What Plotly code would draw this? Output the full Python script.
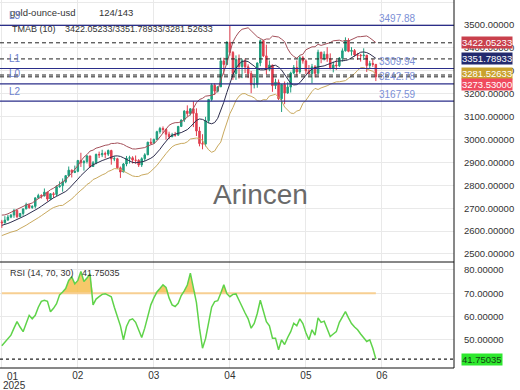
import numpy as np
import pandas as pd
import plotly.graph_objects as go
from plotly.subplots import make_subplots

# ---------------- data ----------------
# warm-up bars (not drawn, only used for the indicator)
warm_open = [2652, 2646, 2586, 2594, 2622, 2613, 2617, 2633, 2621, 2606, 2624, 2658]
warm_high = [2653, 2664, 2615, 2632, 2630, 2619, 2639, 2637, 2626, 2626, 2665, 2666]
warm_low = [2632, 2582, 2583, 2584, 2602, 2608, 2613, 2614, 2597, 2601, 2623, 2635]
warm_close = [2646, 2586, 2594, 2622, 2613, 2617, 2633, 2621, 2606, 2624, 2658, 2640]

open_ = [
    2640, 2636, 2648, 2661, 2670, 2690, 2663, 2677, 2697, 2715,
    2703, 2708, 2745, 2755, 2753, 2770, 2740, 2763, 2760, 2794,
    2798, 2815, 2842, 2866, 2856, 2861, 2908, 2898, 2904, 2928,
    2882, 2898, 2935, 2933, 2939, 2936, 2952, 2915, 2916, 2876,
    2858, 2893, 2918, 2920, 2910, 2909, 2889, 2916, 2933, 2988,
    2984, 3000, 3034, 3048, 3044, 3023, 3012, 3020, 3019, 3057,
    3085, 3124, 3113, 3134, 3114, 3037, 2982, 2980, 3082, 3175,
    3237, 3211, 3230, 3343, 3327, 3424, 3380, 3288, 3349, 3319,
    3344, 3317, 3288, 3239, 3240, 3334, 3431, 3365, 3306, 3325,
    3235, 3250, 3178, 3240, 3203, 3229, 3290, 3314, 3295, 3357,
    3343, 3300, 3288, 3317, 3289, 3381, 3353, 3372, 3352, 3310,
    3325, 3322, 3355, 3387, 3432, 3385, 3388, 3369, 3368, 3366,
    3368, 3323, 3332, 3328]
high = [
    2649, 2665, 2671, 2675, 2697, 2692, 2679, 2697, 2724, 2716,
    2713, 2746, 2763, 2761, 2786, 2772, 2765, 2770, 2800, 2817,
    2830, 2845, 2882, 2869, 2886, 2911, 2942, 2910, 2932, 2929,
    2906, 2938, 2947, 2955, 2947, 2956, 2955, 2927, 2920, 2882,
    2897, 2928, 2929, 2927, 2930, 2914, 2922, 2940, 2990, 3005,
    3004, 3038, 3055, 3057, 3047, 3034, 3029, 3033, 3059, 3087,
    3128, 3149, 3136, 3167, 3136, 3055, 3023, 3099, 3176, 3245,
    3245, 3232, 3357, 3357, 3430, 3497.88, 3386, 3367, 3371, 3352,
    3353, 3328, 3299, 3269, 3336, 3437, 3435, 3414, 3345, 3326,
    3265, 3262, 3240, 3253, 3250, 3296, 3325, 3345, 3366, 3365,
    3350, 3325, 3330, 3325, 3392, 3383, 3385, 3403, 3376, 3340,
    3349, 3360, 3398, 3446, 3442, 3403, 3395, 3378, 3374, 3398,
    3369, 3343, 3350, 3329]
low = [
    2614, 2633, 2645, 2656, 2658, 2656, 2661, 2667, 2695, 2697,
    2697, 2699, 2741, 2742, 2752, 2730, 2737, 2745, 2752, 2789,
    2772, 2809, 2836, 2834, 2853, 2857, 2880, 2864, 2895, 2876,
    2880, 2892, 2919, 2923, 2918, 2928, 2890, 2905, 2872, 2832,
    2857, 2883, 2895, 2895, 2894, 2880, 2880, 2906, 2932, 2978,
    2983, 2998, 3025, 3028, 2999, 3002, 3010, 3012, 3016, 3055,
    3076, 3100, 3105, 3054, 3015, 2970, 2957, 2970, 3071, 3167,
    3194, 3205, 3229, 3283, 3325, 3366, 3260, 3260, 3266, 3268,
    3290, 3268, 3202, 3223, 3226, 3320, 3360, 3284, 3298, 3208,
    3220, 3172, 3120, 3154, 3199, 3205, 3285, 3278, 3287, 3331,
    3285, 3286, 3245, 3271, 3287, 3333, 3345, 3339, 3306, 3293,
    3303, 3316, 3340, 3384, 3381, 3366, 3362, 3347, 3340, 3347,
    3295, 3312, 3317, 3255]
close = [
    2636, 2648, 2661, 2670, 2690, 2663, 2677, 2697, 2715, 2703,
    2708, 2745, 2755, 2753, 2770, 2740, 2763, 2760, 2794, 2798,
    2815, 2842, 2866, 2856, 2861, 2908, 2898, 2904, 2928, 2882,
    2898, 2935, 2933, 2939, 2936, 2952, 2915, 2916, 2876, 2858,
    2893, 2918, 2920, 2910, 2909, 2889, 2916, 2933, 2988, 2984,
    3000, 3034, 3048, 3044, 3023, 3012, 3020, 3019, 3057, 3085,
    3124, 3113, 3134, 3114, 3037, 2982, 2980, 3082, 3175, 3237,
    3211, 3230, 3343, 3327, 3424, 3380, 3288, 3349, 3319, 3344,
    3317, 3288, 3239, 3240, 3334, 3431, 3365, 3306, 3325, 3235,
    3250, 3178, 3240, 3203, 3229, 3290, 3314, 3295, 3357, 3343,
    3300, 3288, 3317, 3289, 3381, 3353, 3372, 3352, 3310, 3325,
    3322, 3355, 3387, 3432, 3385, 3388, 3369, 3368, 3366, 3368,
    3323, 3332, 3328, 3273.53]

rsi = [
    47.5, 49, 50.5, 52, 55, 57.8, 55.5, 53.5, 57, 60.5,
    59, 60.5, 64, 66.5, 67, 66.5, 62, 63.5, 65.5, 69.3,
    70.5, 72, 75.5, 77, 74, 75.5, 79.3, 75, 76.5, 78.3,
    65, 67.5, 68.5, 69.5, 69.8, 69.3, 68.5, 64, 60, 56,
    50, 55.7, 58.5, 59, 57.5, 54.5, 51, 55, 59.5, 65,
    68, 70.5, 72, 73.6, 72.5, 68, 65, 64.3, 65.7, 69,
    71, 73.5, 78.6, 71.5, 66, 55, 46.4, 50.5, 57, 64,
    66.4, 66.8, 70, 73.6, 69.8, 68.5, 69.5, 69.7, 67, 64,
    61.5, 59, 55, 57, 61.3, 67, 62, 57.8, 56, 50.7,
    50.7, 45.7, 50, 48, 51, 53.5, 57.1, 56, 59, 57,
    53, 50, 54.3, 52, 59.4, 57.5, 58, 55, 51.4, 52.5,
    53.5, 57.5, 60, 62.1, 59.4, 57, 55.5, 54.3, 52.5, 50.7,
    49.3, 50, 46.4, 41.75035]

tick_pos = [25, 50, 75, 100, 125]
tick_text = ["02", "03", "04", "05", "06"]
first_tick_text = "01"
year_text = "2025"

levels = {"L3": 3497.88, "L1": 3309.94, "L0": 3242.78, "L2": 3167.59}
tma_vals = [3422.05233, 3351.78933, 3281.52633]
last_price = 3273.53
rsi_ob = 70
rsi_last = 41.75035

# ---------------- indicator (TMAB 10) ----------------
hh = pd.Series(warm_high + high, dtype=float)
ll = pd.Series(warm_low + low, dtype=float)
cc = pd.Series(warm_close + close, dtype=float)
mid = cc.rolling(6).mean().rolling(5).mean()
pc = cc.shift(1)
tr = pd.concat([hh - ll, (hh - pc).abs(), (ll - pc).abs()], axis=1).max(axis=1)
atr = tr.rolling(10).mean()
nw = len(warm_close)
mid_p = mid.iloc[nw:].values
up_p = (mid + 1.5 * atr).iloc[nw:].values
lo_p = (mid - 1.5 * atr).iloc[nw:].values

x = list(range(len(close)))

FONT = "Liberation Sans, Arial, sans-serif"
W, H = 520, 390
ML, MR, MT, MB = 0, 66, 0, 22
PW, PH = W - ML - MR, H - MT - MB
MAIN_H = 262

fig = make_subplots(rows=2, cols=1, shared_xaxes=True, vertical_spacing=0,
                    row_heights=[MAIN_H, PH - MAIN_H])

fig.add_trace(go.Candlestick(
    x=x, open=open_, high=high, low=low, close=close,
    increasing=dict(line=dict(color="#1f9e7e", width=1), fillcolor="#1f9e7e"),
    decreasing=dict(line=dict(color="#e03e4e", width=1), fillcolor="#e03e4e"),
    whiskerwidth=0, showlegend=False, hoverinfo="skip"), row=1, col=1)

fig.add_trace(go.Scatter(x=x, y=up_p, mode="lines", line=dict(color="#a4505a", width=1),
                         showlegend=False, hoverinfo="skip"), row=1, col=1)
fig.add_trace(go.Scatter(x=x, y=mid_p, mode="lines", line=dict(color="#2d2d4d", width=1),
                         showlegend=False, hoverinfo="skip"), row=1, col=1)
fig.add_trace(go.Scatter(x=x, y=lo_p, mode="lines", line=dict(color="#c9a95e", width=1),
                         showlegend=False, hoverinfo="skip"), row=1, col=1)

# RSI panel
ob_line = [rsi_ob] * len(rsi)
fig.add_trace(go.Scatter(x=x, y=ob_line, mode="lines", line=dict(color="#f7cf92", width=2),
                         showlegend=False, hoverinfo="skip"), row=2, col=1)
fig.add_trace(go.Scatter(x=x, y=np.maximum(np.array(rsi), rsi_ob), mode="lines",
                         line=dict(width=0), fill="tonexty", fillcolor="rgba(246,190,80,0.85)",
                         showlegend=False, hoverinfo="skip"), row=2, col=1)
fig.add_trace(go.Scatter(x=x, y=rsi, mode="lines", line=dict(color="#5fd34a", width=1.5),
                         showlegend=False, hoverinfo="skip"), row=2, col=1)

# horizontal level lines
for name, v in levels.items():
    fig.add_hline(y=v, line=dict(color="#2b2e8a", width=1.2), row=1, col=1)
for v in tma_vals + [last_price]:
    fig.add_hline(y=v, line=dict(color="#222", width=1, dash="4px,3px"), row=1, col=1)
fig.add_hline(y=rsi_last, line=dict(color="#222", width=1.2, dash="3px,3px"), row=2, col=1)

# axes
fig.update_xaxes(range=[-0.6, 148.7], showgrid=True, gridcolor="#e9e9e9",
                 tickvals=[0] + tick_pos, ticktext=[""] + tick_text, zeroline=False,
                 showline=False, ticks="", rangeslider_visible=False,
                 tickfont=dict(family=FONT, size=10, color="#333"))
fig.update_yaxes(side="right", showgrid=True, gridcolor="#e9e9e9", zeroline=False,
                 ticks="", showline=False, tickformat=".5f", ticklabelstandoff=9,
                 tickfont=dict(family=FONT, size=9.5, color="#333"))
fig.update_yaxes(range=[2465, 3609], tickvals=list(range(2500, 3700, 100)), row=1, col=1)
fig.update_yaxes(range=[37.9, 83.4], tickvals=[50, 60, 70, 80], row=2, col=1)


def px(xp):
    return xp / PW


def py(yp):
    return 1 - yp / PH


ann = []


def text(s, xpx, ypx, size=9, color="#333", anchor="left"):
    ann.append(dict(text=s, x=px(xpx), y=py(ypx), xref="paper", yref="paper",
                    xanchor=anchor, yanchor="middle", showarrow=False,
                    font=dict(family=FONT, size=size, color=color)))


text("gold-ounce-usd", 8, 13, size=9.5)
text("124/143", 97, 13, size=9.5)
text("TMAB (10)", 10, 29)
text("/".join(f"{v:.5f}" for v in tma_vals), 63, 29)
text("RSI (14, 70, 30)", 8, 273)
text(f"{rsi_last:.5f}", 80, 273)
text("Arincen", 260, 194, size=28, color="#6a6a6a", anchor="center")
text(first_tick_text, 13, 376, size=10, anchor="center")
text(year_text, 14, 385, size=10, anchor="center")

for name, v in levels.items():
    ann.append(dict(text=name, x=px(7), y=v, xref="paper", yref="y", yshift=10,
                    xanchor="left", yanchor="middle", showarrow=False,
                    font=dict(family=FONT, size=10, color="#6b7fcf")))
    ann.append(dict(text=f"{v:.2f}", x=px(397), y=v, xref="paper", yref="y", yshift=7,
                    xanchor="center", yanchor="middle", showarrow=False,
                    font=dict(family=FONT, size=10, color="#7b8fd6")))

tags = [(tma_vals[0], "#c9404c", "white", 0),
        (tma_vals[1], "#232a6e", "white", 0),
        (tma_vals[2], "#c9a22e", "white", 2),
        (last_price, "#f04a5e", "white", -8)]
for v, bg, fc, ys in tags:
    ann.append(dict(text=f"{v:.5f}", x=px(461), y=v, xref="paper", yref="y", yshift=ys,
                    xanchor="left", yanchor="middle", showarrow=False, bgcolor=bg,
                    borderpad=0, font=dict(family=FONT, size=9.5, color=fc)))
ann.append(dict(text=f"{rsi_last:.5f}", x=px(461), y=rsi_last, xref="paper", yref="y2",
                xanchor="left", yanchor="middle", showarrow=False, bgcolor="#2ee82e",
                borderpad=0, font=dict(family=FONT, size=9.5, color="#114411")))

shapes = [
    dict(type="line", xref="paper", yref="paper", x0=1, x1=1, y0=0, y1=1,
         line=dict(color="#111", width=1)),
    dict(type="line", xref="paper", yref="paper", x0=0, x1=1, y0=py(MAIN_H), y1=py(MAIN_H),
         line=dict(color="#111", width=1)),
    dict(type="line", xref="paper", yref="paper", x0=0, x1=1, y0=0, y1=0,
         line=dict(color="#111", width=1)),
]

fig.update_layout(width=W, height=H, margin=dict(l=ML, r=MR, t=MT, b=MB),
                  paper_bgcolor="white", plot_bgcolor="white",
                  annotations=list(fig.layout.annotations) + ann,
                  shapes=list(fig.layout.shapes) + shapes,
                  font=dict(family=FONT), showlegend=False)

fig.write_html("out.html")
